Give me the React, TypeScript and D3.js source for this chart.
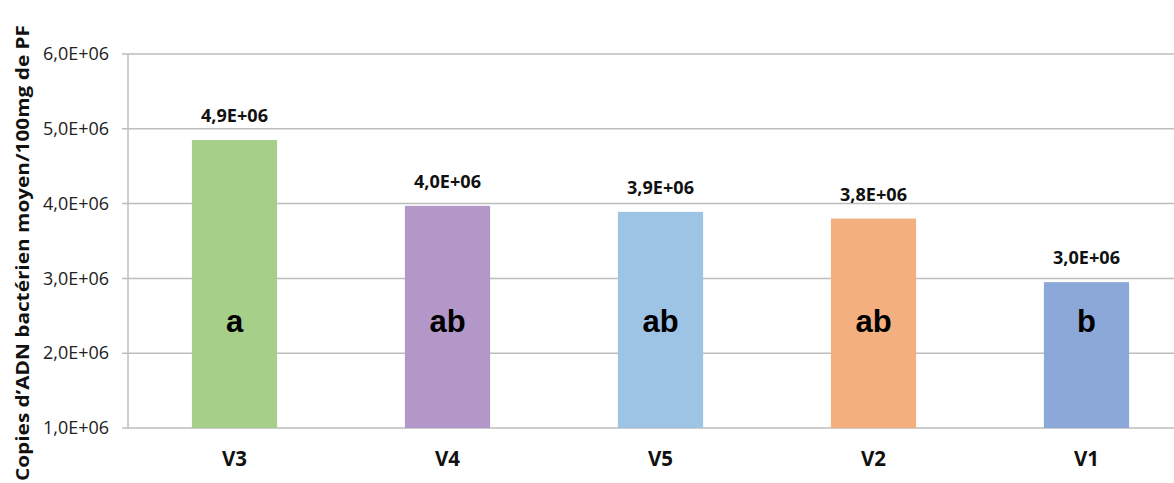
import React from "react";
import * as d3 from "d3";

const categories = ["V3", "V4", "V5", "V2", "V1"];
const values = [4.85e6, 3.97e6, 3.89e6, 3.8e6, 2.95e6];
const valueLabels = ["4,9E+06", "4,0E+06", "3,9E+06", "3,8E+06", "3,0E+06"];
const groupLetters = ["a", "ab", "ab", "ab", "b"];
const colors = ["#A6D08A", "#B397C8", "#9DC3E5", "#F3AF7E", "#8CA8D8"];
const yTicks = [1e6, 2e6, 3e6, 4e6, 5e6, 6e6];
const yTickLabels = ["1,0E+06", "2,0E+06", "3,0E+06", "4,0E+06", "5,0E+06", "6,0E+06"];
const yTitle = "Copies d\u2019ADN bactérien moyen/100mg de PF";

const W = 1174;
const H = 483;
const left = 128;
const right = 1193;
const top = 54;
const bottom = 428;

export default function App() {
  const x = d3.scaleBand<string>().domain(categories).range([left, right]).paddingInner(0.6).paddingOuter(0.3);
  const y = d3.scaleLinear().domain([1e6, 6e6]).range([bottom, top]);
  const grid = "#BDBDBD";
  const font = "'Open Sans', 'Noto Sans', sans-serif";
  return (
    <div style={{ position: "absolute", left: 0, top: 0, width: W, height: H, background: "#fff" }}>
      <svg width={W} height={H} style={{ display: "block" }}>
        <rect width={W} height={H} fill="#fff" />
        {yTicks.map((t, i) => (
          <g key={i}>
            <line x1={left - 6} x2={W} y1={y(t)} y2={y(t)} stroke={grid} strokeWidth={1.5} />
            <text x={109} y={y(t)} dy="0.35em" textAnchor="end" fontFamily={font} fontSize={17.5} fill="#222" textLength={66} lengthAdjust="spacingAndGlyphs">
              {yTickLabels[i]}
            </text>
          </g>
        ))}
        <line x1={left} x2={left} y1={top} y2={bottom} stroke={grid} strokeWidth={1.5} />
        {categories.map((c, i) => {
          const bx = x(c)!;
          const bw = x.bandwidth();
          const cx = bx + bw / 2;
          return (
            <g key={c}>
              <rect x={bx} y={y(values[i])} width={bw} height={bottom - y(values[i])} fill={colors[i]} />
              <text x={cx} y={y(values[i]) - 18} textAnchor="middle" fontFamily={font} fontWeight="bold" fontSize={17.5} fill="#111" textLength={67} lengthAdjust="spacingAndGlyphs">
                {valueLabels[i]}
              </text>
              <text x={cx} y={y(2.43e6)} dy="0.35em" textAnchor="middle" fontFamily="'Liberation Sans', Arial, sans-serif" fontWeight="bold" fontSize={31} fill="#000">
                {groupLetters[i]}
              </text>
              <text x={cx} y={459} dy="0.35em" textAnchor="middle" fontFamily={font} fontWeight="bold" fontSize={20.5} fill="#111">
                {c}
              </text>
            </g>
          );
        })}
        <text
          transform={`translate(23, ${(bottom + top) / 2 + 12}) rotate(-90)`}
          textAnchor="middle"
          dy="0.35em"
          fontFamily={font}
          fontWeight="bold"
          fontSize={17.5}
          fill="#111"
          textLength={456}
          lengthAdjust="spacingAndGlyphs"
        >
          {yTitle}
        </text>
      </svg>
    </div>
  );
}
